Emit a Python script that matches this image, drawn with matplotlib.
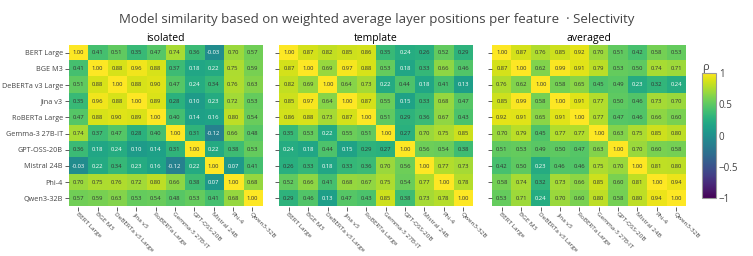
import numpy as np
import matplotlib
matplotlib.use('Agg')
import matplotlib.pyplot as plt
from matplotlib.colors import Normalize

plt.rcParams['font.family'] = ['Open Sans', 'DejaVu Sans']

models = ['BERT Large', 'BGE M3', 'DeBERTa v3 Large', 'Jina v3', 'RoBERTa Large',
          'Gemma-3 27B-IT', 'GPT-OSS-20B', 'Mistral 24B', 'Phi-4', 'Qwen3-32B']

isolated = [
    [1.00, 0.41, 0.51, 0.35, 0.47, 0.74, 0.36, -0.03, 0.70, 0.57],
    [0.41, 1.00, 0.88, 0.96, 0.88, 0.37, 0.18, 0.22, 0.75, 0.59],
    [0.51, 0.88, 1.00, 0.88, 0.90, 0.47, 0.24, 0.34, 0.76, 0.63],
    [0.35, 0.96, 0.88, 1.00, 0.89, 0.28, 0.10, 0.23, 0.72, 0.53],
    [0.47, 0.88, 0.90, 0.89, 1.00, 0.40, 0.14, 0.16, 0.80, 0.54],
    [0.74, 0.37, 0.47, 0.28, 0.40, 1.00, 0.31, -0.12, 0.66, 0.48],
    [0.36, 0.18, 0.24, 0.10, 0.14, 0.31, 1.00, 0.22, 0.38, 0.53],
    [-0.03, 0.22, 0.34, 0.23, 0.16, -0.12, 0.22, 1.00, 0.07, 0.41],
    [0.70, 0.75, 0.76, 0.72, 0.80, 0.66, 0.38, 0.07, 1.00, 0.68],
    [0.57, 0.59, 0.63, 0.53, 0.54, 0.48, 0.53, 0.41, 0.68, 1.00],
]

template = [
    [1.00, 0.87, 0.82, 0.85, 0.86, 0.35, 0.24, 0.26, 0.52, 0.29],
    [0.87, 1.00, 0.69, 0.97, 0.88, 0.53, 0.18, 0.33, 0.66, 0.46],
    [0.82, 0.69, 1.00, 0.64, 0.73, 0.22, 0.44, 0.18, 0.41, 0.13],
    [0.85, 0.97, 0.64, 1.00, 0.87, 0.55, 0.15, 0.33, 0.68, 0.47],
    [0.86, 0.88, 0.73, 0.87, 1.00, 0.51, 0.29, 0.36, 0.67, 0.43],
    [0.35, 0.53, 0.22, 0.55, 0.51, 1.00, 0.27, 0.70, 0.75, 0.85],
    [0.24, 0.18, 0.44, 0.15, 0.29, 0.27, 1.00, 0.56, 0.54, 0.38],
    [0.26, 0.33, 0.18, 0.33, 0.36, 0.70, 0.56, 1.00, 0.77, 0.73],
    [0.52, 0.66, 0.41, 0.68, 0.67, 0.75, 0.54, 0.77, 1.00, 0.78],
    [0.29, 0.46, 0.13, 0.47, 0.43, 0.85, 0.38, 0.73, 0.78, 1.00],
]

averaged = [
    [1.00, 0.87, 0.76, 0.85, 0.92, 0.70, 0.51, 0.42, 0.58, 0.53],
    [0.87, 1.00, 0.62, 0.99, 0.91, 0.79, 0.53, 0.50, 0.74, 0.71],
    [0.76, 0.62, 1.00, 0.58, 0.65, 0.45, 0.49, 0.23, 0.32, 0.24],
    [0.85, 0.99, 0.58, 1.00, 0.91, 0.77, 0.50, 0.46, 0.73, 0.70],
    [0.92, 0.91, 0.65, 0.91, 1.00, 0.77, 0.47, 0.46, 0.66, 0.60],
    [0.70, 0.79, 0.45, 0.77, 0.77, 1.00, 0.63, 0.75, 0.85, 0.80],
    [0.51, 0.53, 0.49, 0.50, 0.47, 0.63, 1.00, 0.70, 0.60, 0.58],
    [0.42, 0.50, 0.23, 0.46, 0.46, 0.75, 0.70, 1.00, 0.81, 0.80],
    [0.58, 0.74, 0.32, 0.73, 0.66, 0.85, 0.60, 0.81, 1.00, 0.94],
    [0.53, 0.71, 0.24, 0.70, 0.60, 0.80, 0.58, 0.80, 0.94, 1.00],
]

panels = [('isolated', isolated), ('template', template), ('averaged', averaged)]

W, H = 753, 256
fig = plt.figure(figsize=(W / 100, H / 100), dpi=100)
grey = '#444444'

lefts = [68.5, 279.3, 492.3]
pw, ph = 193.5, 162
top = 44.5
norm = Normalize(-1, 1)
cmap = plt.get_cmap('viridis')

for i, (name, mat) in enumerate(panels):
    m = np.array(mat)
    ax = fig.add_axes([lefts[i] / W, (H - top - ph) / H, pw / W, ph / H])
    im = ax.imshow(m, cmap=cmap, norm=norm, aspect='auto', interpolation='nearest')
    for r in range(m.shape[0]):
        for c in range(m.shape[1]):
            v = m[r, c]
            col = 'white' if v < 0.25 else '#333333'
            ax.text(c, r, f'{v:.2f}', ha='center', va='center', fontsize=4.2, color=col)
    ax.set_xticks(range(len(models)))
    ax.set_yticks(range(len(models)))
    ax.set_xticklabels(models, rotation=-45, ha='left', va='top', rotation_mode='anchor',
                       fontsize=4.6, color=grey)
    if i == 0:
        ax.set_yticklabels(models, fontsize=5.2, color=grey)
    else:
        ax.set_yticklabels([])
    ax.tick_params(length=3, width=0.6, color=grey, pad=1)
    ax.tick_params(axis='x', pad=0.5)
    for s in ax.spines.values():
        s.set_visible(False)
    ax.set_title(name, fontsize=7.5, color='black', pad=2.5)

fig.text(0.5, 1 - 20 / H, 'Model similarity based on weighted average layer positions per feature  · Selectivity',
         ha='center', va='center', fontsize=9.5, color=grey)

cax = fig.add_axes([702 / W, (H - 198) / H, 14 / W, 125 / H])
cb = fig.colorbar(im, cax=cax)
cb.set_ticks([-1, -0.5, 0, 0.5, 1])
cb.set_ticklabels(['\u22121', '\u22120.5', '0', '0.5', '1'])
cb.ax.tick_params(labelsize=7, colors=grey, length=0, pad=2)
cb.outline.set_edgecolor('#999999')
cb.outline.set_linewidth(0.8)
cax.set_title('\u03c1', fontsize=8, color=grey, loc='left', pad=2)

fig.savefig('out.png', dpi=100)
